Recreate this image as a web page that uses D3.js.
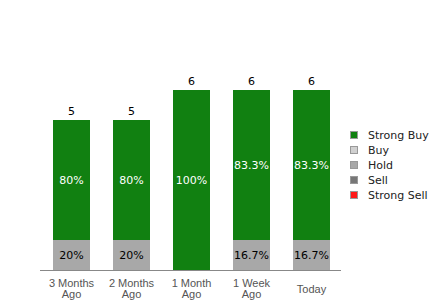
<!DOCTYPE html>
<html>
<head>
<meta charset="utf-8">
<script src="https://cdn.jsdelivr.net/npm/d3@7"></script>
<style>
body { margin: 0; background: #fff; }
svg { display: block; font-family: "DejaVu Sans", sans-serif; }
</style>
</head>
<body>
<svg id="chart" width="440" height="300"></svg>
<script>
// data
var periods = ["3 Months\nAgo", "2 Months\nAgo", "1 Month\nAgo", "1 Week\nAgo", "Today"];
var strongBuy = [4, 4, 6, 5, 5];
var buy = [0, 0, 0, 0, 0];
var hold = [1, 1, 0, 1, 1];
var sell = [0, 0, 0, 0, 0];
var strongSell = [0, 0, 0, 0, 0];

var seriesNames = ["Strong Buy", "Buy", "Hold", "Sell", "Strong Sell"];
var seriesColors = ["#118011", "#d0d0d0", "#a8a8a8", "#777777", "#ff1a1a"];

var svg = d3.select("#chart");

var x = d3.scaleBand()
    .domain(d3.range(periods.length))
    .range([41.5, 341.5])
    .paddingInner(23 / 60)
    .paddingOuter(23 / 120);

var y = d3.scaleLinear()
    .domain([0, 6])
    .range([270, 90]);

var rows = periods.map((p, i) => ({
    i: i,
    "Strong Buy": strongBuy[i],
    "Buy": buy[i],
    "Hold": hold[i],
    "Sell": sell[i],
    "Strong Sell": strongSell[i]
}));

// stack from the bottom: strong sell .. strong buy
var stack = d3.stack().keys(seriesNames.slice().reverse());
var layers = stack(rows);

var color = d3.scaleOrdinal().domain(seriesNames).range(seriesColors);

var g = svg.append("g");
layers.forEach(layer => {
    var key = layer.key;
    layer.forEach((d, i) => {
        var v = d[1] - d[0];
        if (v <= 0) return;
        var total = d3.sum(seriesNames, k => rows[i][k]);
        g.append("rect")
            .attr("x", x(i))
            .attr("width", x.bandwidth())
            .attr("y", y(d[1]))
            .attr("height", y(d[0]) - y(d[1]))
            .attr("fill", color(key));
        var pct = Math.round(v / total * 1000) / 10;
        g.append("text")
            .attr("x", x(i) + x.bandwidth() / 2)
            .attr("y", (y(d[0]) + y(d[1])) / 2)
            .attr("dy", "0.35em")
            .attr("text-anchor", "middle")
            .attr("font-size", 11)
            .attr("fill", key === "Strong Buy" || key === "Strong Sell" || key === "Sell" ? "#fff" : "#000")
            .text(pct + "%");
    });
});

// totals above bars
rows.forEach((r, i) => {
    var total = d3.sum(seriesNames, k => r[k]);
    svg.append("text")
        .attr("x", x(i) + x.bandwidth() / 2)
        .attr("y", y(total) - 5)
        .attr("text-anchor", "middle")
        .attr("font-size", 11)
        .attr("fill", "#000")
        .text(total);
});

// baseline
svg.append("line")
    .attr("x1", 40).attr("x2", 341)
    .attr("y1", 270.5).attr("y2", 270.5)
    .attr("stroke", "#888");

// category labels
periods.forEach((p, i) => {
    var lines = p.split("\n");
    var t = svg.append("text")
        .attr("x", x(i) + x.bandwidth() / 2)
        .attr("y", lines.length > 1 ? 287 : 293)
        .attr("text-anchor", "middle")
        .attr("font-family", "'Liberation Sans', Arial, sans-serif")
        .attr("font-size", 11)
        .attr("fill", "#555");
    lines.forEach((l, j) => {
        t.append("tspan")
            .attr("x", x(i) + x.bandwidth() / 2)
            .attr("dy", j === 0 ? 0 : 11)
            .text(l);
    });
});

// legend
var legend = svg.append("g");
seriesNames.forEach((n, i) => {
    legend.append("rect")
        .attr("x", 350.5).attr("y", 131.5 + i * 15)
        .attr("width", 7).attr("height", 7)
        .attr("fill", color(n))
        .attr("stroke", "#999")
        .attr("stroke-width", 1);
    legend.append("text")
        .attr("x", 368).attr("y", 135 + i * 15)
        .attr("dy", "0.35em")
        .attr("font-size", 11)
        .attr("fill", "#222")
        .text(n);
});
</script>
</body>
</html>
